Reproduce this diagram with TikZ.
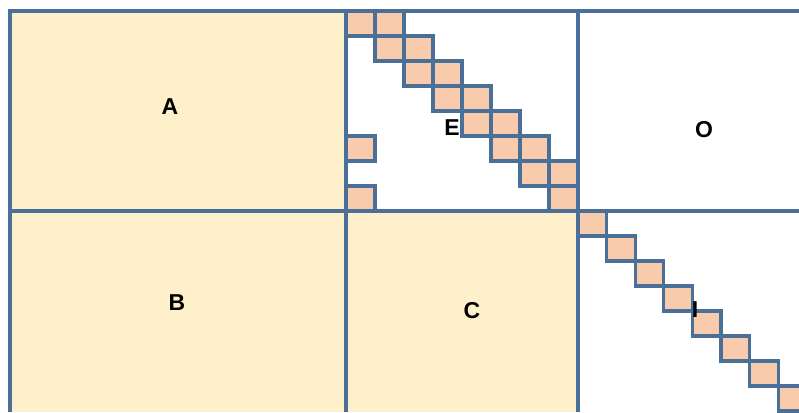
\documentclass[tikz,border=0pt]{standalone}
\usepackage{fontspec}
\setmainfont{Liberation Sans}
\usepackage{tikz}
\definecolor{azul}{RGB}{74,111,153}
\definecolor{crema}{RGB}{255,240,204}
\definecolor{salmon}{RGB}{248,203,173}
\tikzset{
  bloque/.style={fill=crema},
  celda/.style={fill=salmon,draw=azul,line width=3.2pt},
  rejilla/.style={draw=azul,line width=3.6pt},
  letra/.style={font=\fontsize{23}{27}\selectfont\bfseries,inner sep=0pt}
}
\begin{document}
\begin{tikzpicture}[x=1pt,y=-1pt]
\useasboundingbox (0,0) rectangle (799,412); \clip (0,0) rectangle (799,412);
\fill[bloque] (10,11) rectangle (346,412); \fill[bloque] (346,211) rectangle (578,412);
\draw[rejilla] (10,412)--(10,11)--(799,11); \draw[rejilla] (10,211)--(799,211);
\draw[rejilla] (346,11)--(346,412); \draw[rejilla] (578,11)--(578,412);
% bloque E: banda doble y dos celdas sueltas
\foreach \r in {0,...,6}{\draw[celda] ({346+29*\r},{11+25*\r}) rectangle +(29,25);
  \draw[celda] ({346+29*(\r+1)},{11+25*\r}) rectangle +(29,25);}
\foreach \c/\r in {7/7,0/5,0/7}{\draw[celda] ({346+29*\c},{11+25*\r}) rectangle +(29,25);}
% bloque I: diagonal
\foreach \k in {0,...,7}{\draw[celda] ({578+28.6*\k},{211+25*\k}) rectangle +(28.6,25);}
\node[letra] (a) at (170,107) {A}; \node[letra] (e) at (452,128) {E};
\node[letra] (o) at (704,130) {O}; \node[letra] (b) at (177,303) {B};
\node[letra] (c) at (472,311) {C}; \node[letra] (i) at (695,310) {I};
\end{tikzpicture}
\end{document}
